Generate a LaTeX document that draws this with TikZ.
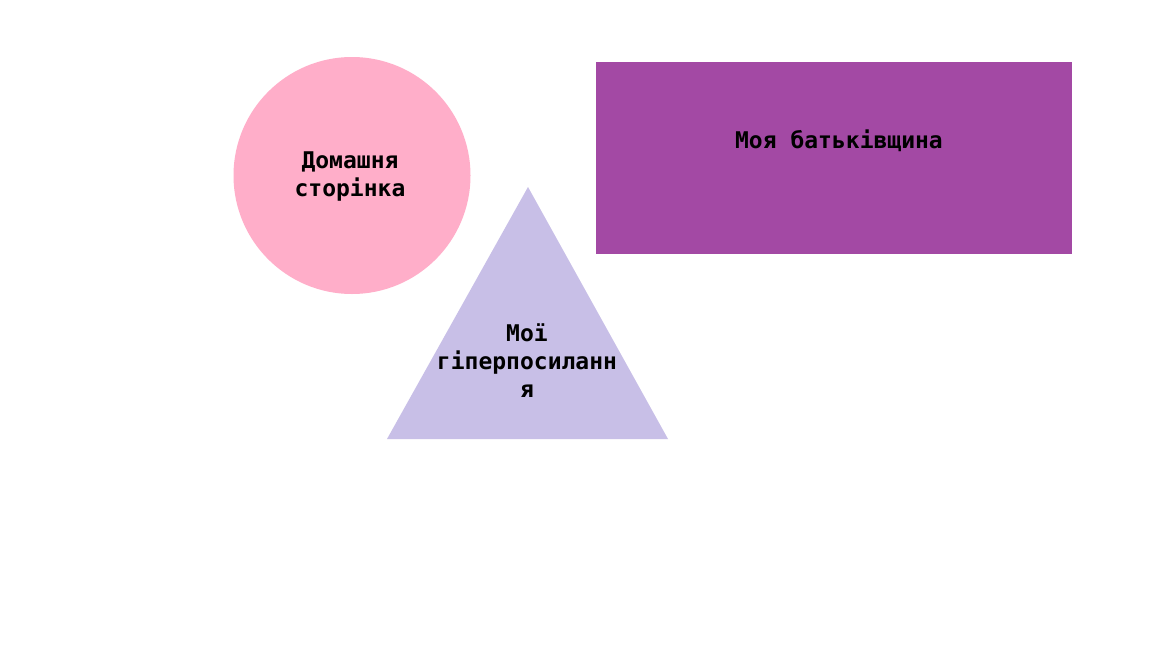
\documentclass[tikz,border=0pt]{standalone}
\usepackage{fontspec}
\newfontfamily\monob{DejaVu Sans Mono}[BoldFont={DejaVu Sans Mono Bold}]
\definecolor{pinkc}{HTML}{FFAEC9}
\definecolor{purplec}{HTML}{A349A4}
\definecolor{lavc}{HTML}{C8BFE7}
\begin{document}
\begin{tikzpicture}[x=1pt,y=-1pt,
  lbl/.style={inner sep=0pt, align=center, font=\monob\bfseries\fontsize{23}{28}\selectfont, text=black}]
\useasboundingbox (0,0) rectangle (1152,648);
\fill[white] (0,0) rectangle (1152,648);
\fill[pinkc] (352,175.5) circle (118.5);
\fill[purplec] (596,62) rectangle (1072,254);
\fill[lavc] (528,187) -- (668,439) -- (387,439) -- cycle;
\node[lbl] (home) at (350,177) {Домашня\\сторінка};
\node[lbl] (land) at (839,141) {Моя батьківщина};
\node[lbl] (links) at (527,361) {Мої\\гіперпосиланн\\я};
\end{tikzpicture}
\end{document}
